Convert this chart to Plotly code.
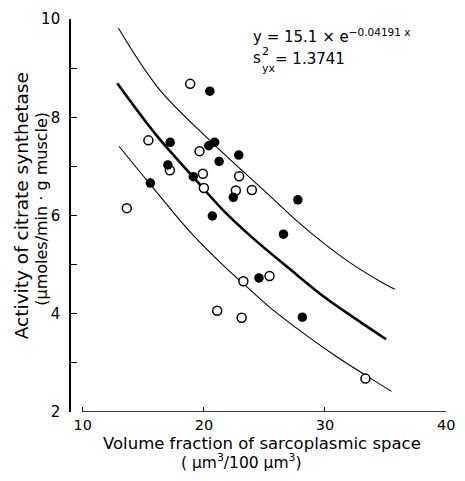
import plotly.graph_objects as go

# ---- data ----
open_x = [18.87, 15.42, 19.64, 17.19, 19.92, 22.91, 20.00, 22.64, 23.96, 13.64,
          23.26, 25.42, 21.10, 23.12, 33.34]
open_y = [8.68, 7.53, 7.31, 6.92, 6.85, 6.80, 6.56, 6.51, 6.52, 6.15,
          4.66, 4.77, 4.06, 3.92, 2.68]

filled_x = [20.49, 17.22, 20.40, 20.89, 22.88, 21.26, 17.03, 19.13, 22.43, 15.58,
            27.76, 20.70, 26.57, 24.55, 28.13]
filled_y = [8.53, 7.49, 7.42, 7.49, 7.23, 7.10, 7.03, 6.79, 6.37, 6.66,
            6.32, 5.99, 5.62, 4.73, 3.93]

# fitted curve and its band
fit_x = [12.85, 16.09, 19.13, 21.62, 24.0, 27.0, 30.0, 32.5, 35.04]
fit_y = [8.69, 7.63, 6.78, 6.10, 5.55, 4.93, 4.33, 3.90, 3.48]

upper_x = [12.95, 16.22, 20.27, 22.69, 25.0, 27.54, 29.16, 32.0, 34.82, 35.76]
upper_y = [9.81, 8.60, 7.58, 7.02, 6.50, 5.92, 5.58, 5.05, 4.62, 4.50]

lower_x = [12.99, 15.55, 18.92, 21.88, 23.10, 25.5, 28.35, 31.0, 33.34, 35.49]
lower_y = [7.41, 6.64, 5.65, 4.92, 4.65, 4.12, 3.58, 3.12, 2.75, 2.42]

x_ticks = [10, 20, 30, 40]
y_ticks = [2, 3, 4, 5, 6, 7, 8, 9, 10]
y_ticktext = ["2", " ", "4", " ", "6", " ", "8", " ", "10"]

FONT = "DejaVu Sans"

fig = go.Figure()

for xs, ys, w in [(upper_x, upper_y, 1.1), (lower_x, lower_y, 1.1), (fit_x, fit_y, 2.6)]:
    fig.add_trace(go.Scatter(x=xs, y=ys, mode="lines",
                             line=dict(color="black", width=w, shape="spline", smoothing=1.0),
                             showlegend=False, hoverinfo="skip"))

fig.add_trace(go.Scatter(x=open_x, y=open_y, mode="markers",
                         marker=dict(symbol="circle", size=9, color="white",
                                     line=dict(color="black", width=1.5)),
                         showlegend=False))
fig.add_trace(go.Scatter(x=filled_x, y=filled_y, mode="markers",
                         marker=dict(symbol="circle", size=9.5, color="black",
                                     line=dict(color="black", width=0)),
                         showlegend=False))

L, R, T, B = 71, 10, 11, 69
W, H = 465, 481
pw, ph = W - L - R, H - T - B


def px(x):
    return (x - L) / pw


def py(y):
    return (H - B - y) / ph


annots = [
    dict(text="y = 15.1 × e<sup>−0.04191 x</sup>", x=px(255), y=py(28), size=15),
    dict(text="s", x=px(255), y=py(51), size=15),
    dict(text="2", x=px(264.5), y=py(44.5), size=11),
    dict(text="yx", x=px(264), y=py(61), size=11),
    dict(text="= 1.3741", x=px(277), y=py(52), size=15),
]
for a in annots:
    fig.add_annotation(text=a["text"], x=a["x"], y=a["y"], xref="paper", yref="paper",
                       xanchor="left", yanchor="middle", showarrow=False,
                       font=dict(family=FONT, size=a["size"], color="black"))

# axis titles
fig.add_annotation(text="Volume fraction of sarcoplasmic space", x=px(266), y=py(444),
                   xref="paper", yref="paper", showarrow=False, xanchor="center", yanchor="middle",
                   font=dict(family=FONT, size=16.5, color="black"))
fig.add_annotation(text="( µm<sup>3</sup>/100 µm<sup>3</sup>)", x=px(245), y=py(462),
                   xref="paper", yref="paper", showarrow=False, xanchor="center", yanchor="middle",
                   font=dict(family=FONT, size=15.5, color="black"))
fig.add_annotation(text="Activity of citrate synthetase", x=px(20), y=py(202),
                   xref="paper", yref="paper", showarrow=False, textangle=-90,
                   xanchor="center", yanchor="middle",
                   font=dict(family=FONT, size=18.5, color="black"))
fig.add_annotation(text="(µmoles/min · g muscle)", x=px(40), y=py(205),
                   xref="paper", yref="paper", showarrow=False, textangle=-90,
                   xanchor="center", yanchor="middle",
                   font=dict(family=FONT, size=16, color="black"))

# x axis line (starts at 10, separate from the y axis)
fig.add_shape(type="line", xref="x", yref="y", x0=10, x1=40, y0=2, y1=2,
              line=dict(color="black", width=1.6))

fig.update_layout(
    width=W, height=H,
    margin=dict(l=L, r=R, t=T, b=B),
    paper_bgcolor="white", plot_bgcolor="white",
    font=dict(family=FONT, color="black"),
    xaxis=dict(range=[9.03, 9.03 + pw / 12.37], showgrid=False, zeroline=False,
               showline=False, ticks="inside", ticklen=5, tickwidth=1.3, tickcolor="black",
               tickvals=x_ticks, tickfont=dict(family=FONT, size=14.5, color="black"),
               ticklabelstandoff=2),
    yaxis=dict(range=[2, 10], showgrid=False, zeroline=False, showline=True,
               linecolor="black", linewidth=1.6, ticks="inside", ticklen=6, tickwidth=1.3,
               tickcolor="black", tickvals=y_ticks, ticktext=y_ticktext,
               tickfont=dict(family=FONT, size=15, color="black"), ticklabelstandoff=6),
)

fig.write_html("out.html")
